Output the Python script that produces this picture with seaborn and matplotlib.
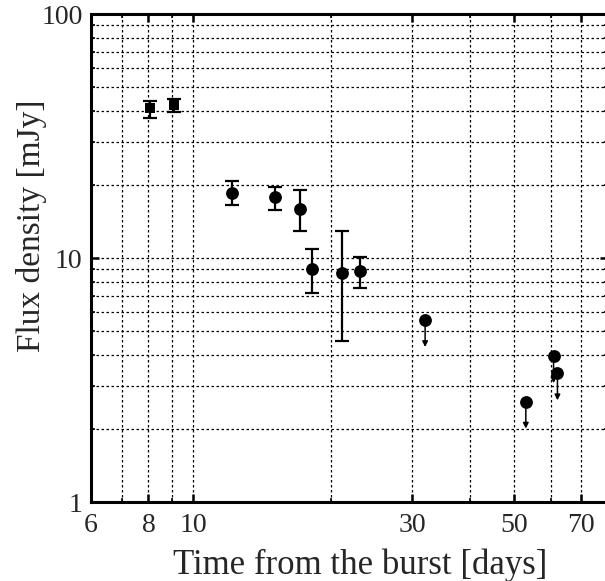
import numpy as np
import pandas as pd
import matplotlib
matplotlib.use("Agg")
import matplotlib.pyplot as plt
import seaborn as sns
from matplotlib.ticker import FixedLocator, NullFormatter, FixedFormatter

# detections (squares)
sq_t = [8.06, 9.11]
sq_f = [41.1, 42.3]
sq_hi = [44.2, 44.7]
sq_lo = [37.6, 39.8]

# detections (circles)
ci_t = [12.18, 15.09, 17.13, 18.14, 21.15, 23.1]
ci_f = [18.5, 17.7, 15.9, 9.04, 8.71, 8.85]
ci_hi = [20.7, 19.6, 19.0, 10.9, 12.9, 10.1]
ci_lo = [16.5, 15.8, 12.9, 7.16, 4.57, 7.55]

# upper limits
ul_t = [32.0, 53.0, 60.9, 62.1]
ul_f = [5.57, 2.58, 3.96, 3.37]

xticks = [6, 8, 10, 30, 50, 70]
xgrid = [6, 7, 8, 9, 10, 20, 30, 40, 50, 60, 70]
yticks = [1, 10, 100]

sns.set_style("ticks")
plt.rcParams['font.family'] = ['Liberation Serif', 'DejaVu Serif']

fig = plt.figure(figsize=(6.05, 5.81), dpi=100)
ax = fig.add_axes([91/605, 1 - 502/581, (608 - 91)/605, (502 - 14)/581])

ax.set_xscale("log")
ax.set_yscale("log")
ax.set_xlim(6, 80)
ax.set_ylim(1, 100)

ax.errorbar(sq_t, sq_f,
            yerr=[np.array(sq_f) - np.array(sq_lo), np.array(sq_hi) - np.array(sq_f)],
            fmt="none", ecolor="black", elinewidth=1.6, capsize=5, capthick=1.6, zorder=3)
ax.errorbar(ci_t, ci_f,
            yerr=[np.array(ci_f) - np.array(ci_lo), np.array(ci_hi) - np.array(ci_f)],
            fmt="none", ecolor="black", elinewidth=1.6, capsize=5, capthick=1.6, zorder=3)

df_sq = pd.DataFrame({"t": sq_t, "f": sq_f})
df_ci = pd.DataFrame({"t": ci_t + ul_t, "f": ci_f + ul_f})
sns.scatterplot(data=df_sq, x="t", y="f", marker="s", s=55, color="black",
                edgecolor="black", linewidth=0, ax=ax, zorder=4)
sns.scatterplot(data=df_ci, x="t", y="f", marker="o", s=85, color="black",
                edgecolor="black", linewidth=0, ax=ax, zorder=4)

for t, f in zip(ul_t, ul_f):
    ax.annotate("", xy=(t, f * 0.775), xytext=(t, f),
                arrowprops=dict(arrowstyle="-|>", color="black", lw=1.1,
                                mutation_scale=8, shrinkA=0, shrinkB=0),
                zorder=3)

ax.xaxis.set_major_locator(FixedLocator(xticks))
ax.xaxis.set_major_formatter(FixedFormatter([str(v) for v in xticks]))
ax.xaxis.set_minor_locator(FixedLocator([v for v in xgrid if v not in xticks]))
ax.xaxis.set_minor_formatter(NullFormatter())
ax.yaxis.set_major_locator(FixedLocator(yticks))
ax.yaxis.set_major_formatter(FixedFormatter([str(v) for v in yticks]))
ymin = [m * d for d in (1, 10) for m in range(2, 10)]
ax.yaxis.set_minor_locator(FixedLocator(ymin))
ax.yaxis.set_minor_formatter(NullFormatter())

ax.grid(True, which="both", linestyle=(0, (2, 2)), color="black", linewidth=0.9)
ax.tick_params(which="both", direction="in", top=True, right=True, color="black")
ax.tick_params(which="major", length=6, width=1.8, labelsize=20)
ax.tick_params(axis="x", which="major", pad=8)
ax.tick_params(axis="y", which="major", pad=6)
ax.tick_params(which="minor", length=3, width=1.2)
for s in ax.spines.values():
    s.set_linewidth(2.2)
    s.set_color("black")
ax.spines["right"].set_visible(False)

ax.set_xlabel("Time from the burst [days]", fontsize=25)
ax.set_ylabel("Flux density [mJy]", fontsize=24)
ax.xaxis.set_label_coords(0.521, -0.096)
ax.yaxis.set_label_coords(-0.085, 0.566)

fig.savefig("out.png", dpi=100)
